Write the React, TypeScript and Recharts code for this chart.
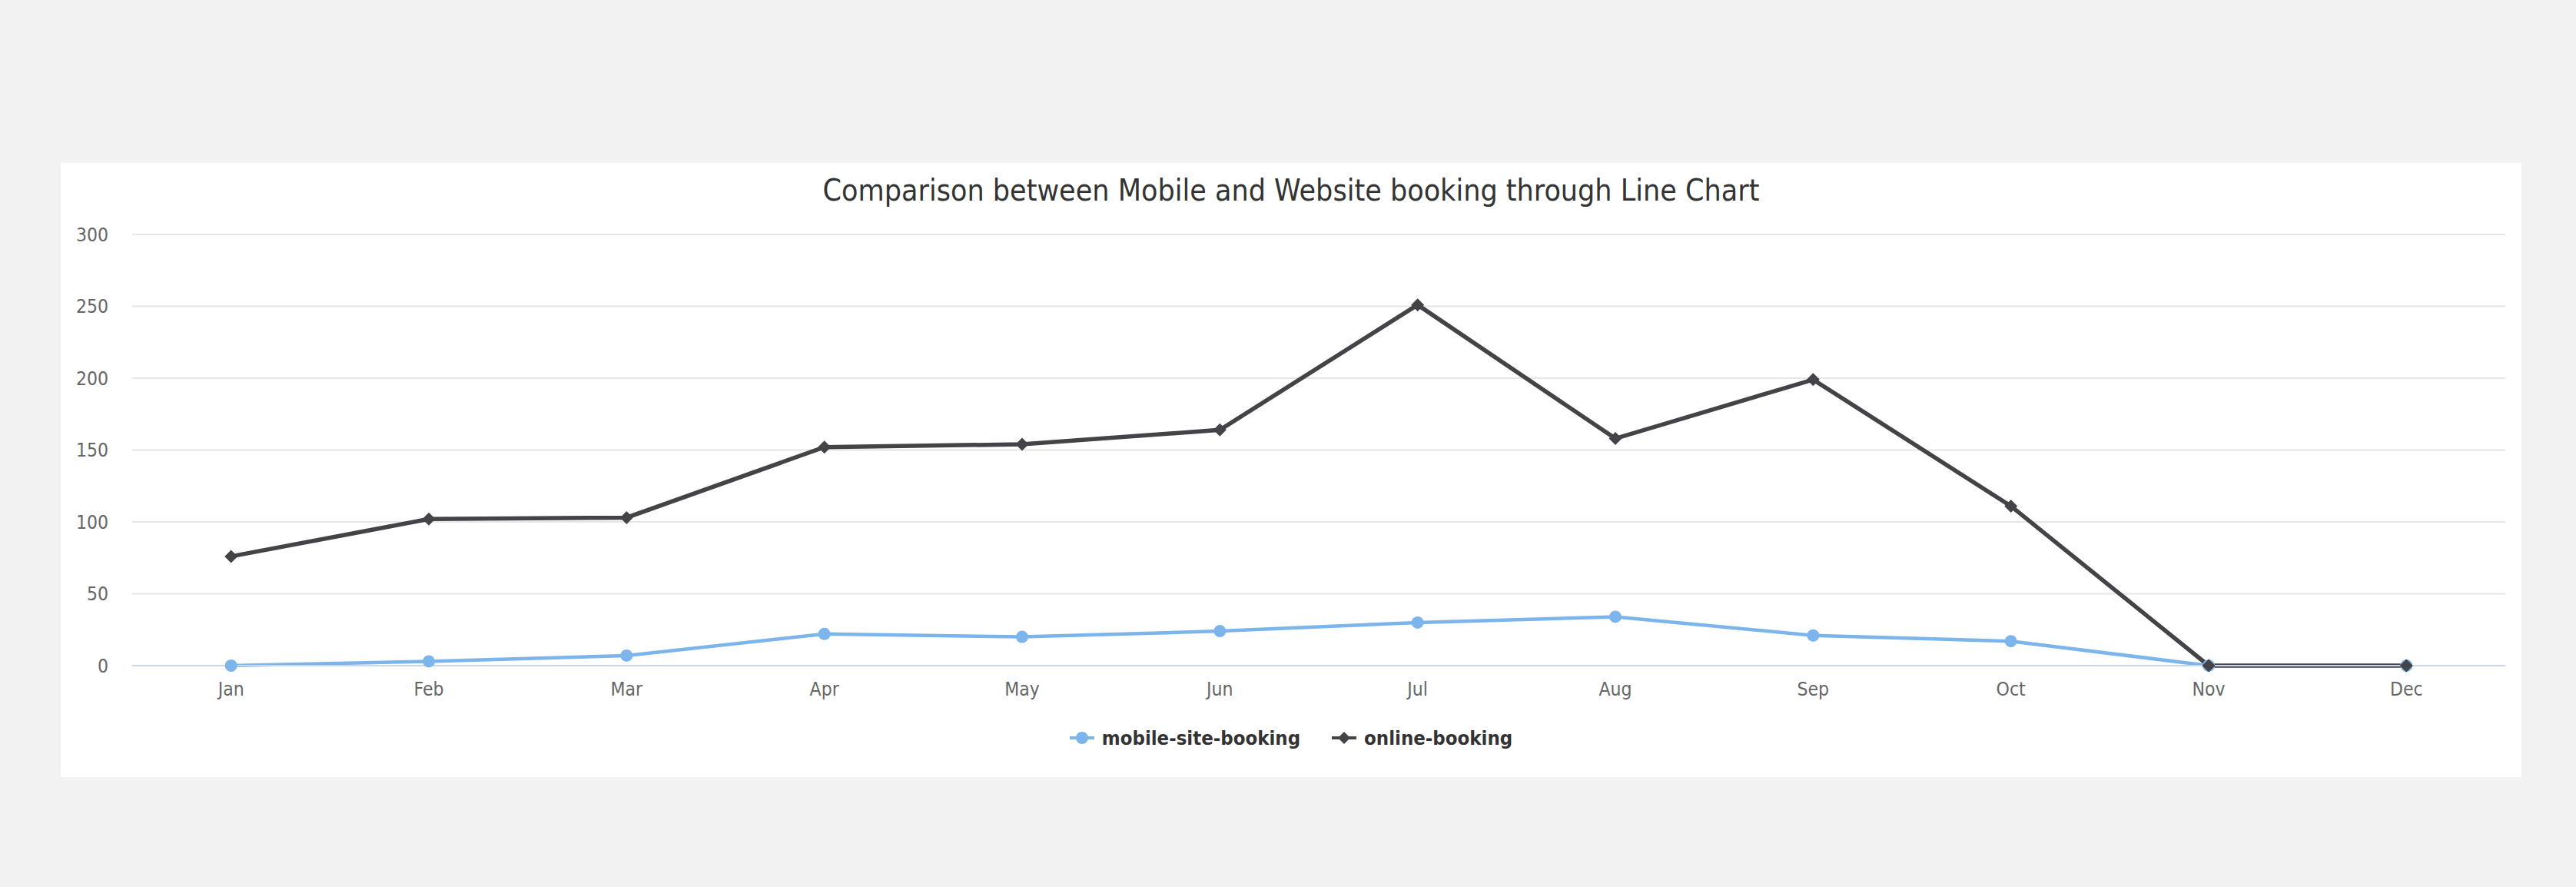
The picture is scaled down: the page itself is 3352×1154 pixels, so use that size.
import { LineChart, Line, XAxis, YAxis, CartesianGrid, Legend } from "recharts";

const months = ["Jan", "Feb", "Mar", "Apr", "May", "Jun", "Jul", "Aug", "Sep", "Oct", "Nov", "Dec"];
const mobileSiteBooking = [0, 3, 7, 22, 20, 24, 30, 34, 21, 17, 0, 0];
const onlineBooking = [76, 102, 103, 152, 154, 164, 251, 158, 199, 111, 0, 0];
const yTicks = [0, 50, 100, 150, 200, 250, 300];

const data = months.map((m, i) => ({
  month: m,
  mobile: mobileSiteBooking[i],
  online: onlineBooking[i],
}));

const FONT = '"DejaVu Sans Condensed", "DejaVu Sans", sans-serif';
const BLUE = "#7cb5ec";
const DARK = "#434348";

function Diamond(props: any) {
  const { cx, cy, index } = props;
  if (cx == null || cy == null) return null;
  const r = 8.5;
  return (
    <path
      key={`dia-${index}`}
      d={`M${cx},${cy - r}L${cx + r},${cy}L${cx},${cy + r}L${cx - r},${cy}Z`}
      fill={DARK}
    />
  );
}

function Circle(props: any) {
  const { cx, cy, index } = props;
  if (cx == null || cy == null) return null;
  return <circle key={`c-${index}`} cx={cx} cy={cy} r={8} fill={BLUE} />;
}

function LegendContent() {
  const item = (label: string, color: string, diamond: boolean) => (
    <div style={{ display: "flex", alignItems: "center" }}>
      <svg width={32} height={20} style={{ marginRight: 10 }}>
        <line x1={0} y1={10} x2={32} y2={10} stroke={color} strokeWidth={4} />
        {diamond ? (
          <path d="M16,2L24,10L16,18L8,10Z" fill={color} />
        ) : (
          <circle cx={16} cy={10} r={8} fill={color} />
        )}
      </svg>
      <span style={{ fontFamily: FONT, fontWeight: "bold", fontSize: 25.5, color: "#333333" }}>{label}</span>
    </div>
  );
  return (
    <div style={{ display: "flex", justifyContent: "center", alignItems: "center", height: 40, gap: 41 }}>
      {item("mobile-site-booking", BLUE, false)}
      {item("online-booking", DARK, true)}
    </div>
  );
}

export default function App() {
  const tick = { fill: "#666666", fontSize: 24.5, fontFamily: FONT };
  return (
    <div style={{ position: "absolute", left: 0, top: 0, width: 3352, height: 1154, background: "#f2f2f2" }}>
      <div style={{ position: "absolute", left: 79, top: 212, width: 3202, height: 799, background: "#ffffff" }}>
        <div
          style={{
            position: "absolute",
            left: 0,
            top: 16,
            width: 3202,
            textAlign: "center",
            fontFamily: FONT,
            fontSize: 39,
            lineHeight: 1,
            color: "#333333",
          }}
        >
          Comparison between Mobile and Website booking through Line Chart
        </div>
        <LineChart
          width={3202}
          height={799}
          data={data}
          margin={{ top: 93, right: 21, left: 0, bottom: 31 }}
          style={{ position: "absolute", left: 0, top: 0 }}
        >
          <CartesianGrid vertical={false} stroke="#e6e6e6" strokeWidth={2} />
          <XAxis
            dataKey="month"
            interval={0}
            height={74}
            padding={{ left: 128.67, right: 128.67 }}
            axisLine={{ stroke: "#ccd6eb", strokeWidth: 2 }}
            tickLine={false}
            tickSize={0}
            tickMargin={22}
            tick={tick}
          />
          <YAxis
            width={93}
            domain={[0, 300]}
            ticks={yTicks}
            axisLine={false}
            tickLine={false}
            tickSize={0}
            tickMargin={31}
            tick={tick}
          />
          <Legend
            verticalAlign="bottom"
            content={() => <LegendContent />}
            wrapperStyle={{ left: 0, width: 3202 }}
          />
          <Line
            type="linear"
            dataKey="mobile"
            name="mobile-site-booking"
            stroke={BLUE}
            strokeWidth={4.5}
            dot={(p: any) => <Circle {...p} />}
            activeDot={false}
            isAnimationActive={false}
          />
          <Line
            type="linear"
            dataKey="online"
            name="online-booking"
            stroke={DARK}
            strokeWidth={5.5}
            dot={(p: any) => <Diamond {...p} />}
            activeDot={false}
            isAnimationActive={false}
          />
        </LineChart>
      </div>
    </div>
  );
}
